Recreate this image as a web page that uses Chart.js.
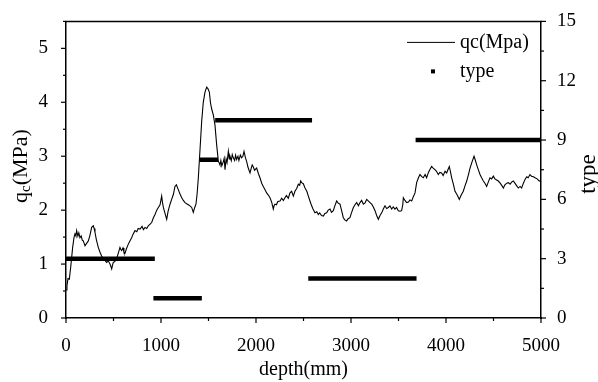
<!DOCTYPE html>
<html lang="en">
  <head>
    <meta charset="UTF-8">
    <title>qc and type vs depth</title>
    <script src="https://cdn.jsdelivr.net/npm/chart.js"></script>
    <style>
      html, body {
        margin: 0;
        padding: 0;
        background: #fff;
      }
      #wrap {
        width: 598px;
        height: 382px;
      }
    </style>
  </head>
  <body>
    <div id="wrap"><canvas id="cptChart"></canvas></div>
    <script>
      // qc trace (depth in mm, qc in MPa)
      const qcDepth = [0, 10, 21, 35, 50, 70, 85, 95, 105, 112, 125, 135, 147, 160, 172, 182, 192, 200, 215, 235,
        250, 270, 288, 296, 305, 320, 340, 358, 375, 393, 410, 428, 445, 463, 472, 481, 490, 498, 515, 533,
        550, 568, 577, 586, 600, 610, 621, 635, 656, 670, 691, 705, 726, 745, 760, 779, 800, 815, 832, 850,
        866, 885, 902, 920, 937, 955, 972, 990, 1007, 1015, 1025, 1045, 1060, 1075, 1095, 1112, 1130, 1147, 1162, 1182,
        1200, 1218, 1235, 1253, 1270, 1288, 1305, 1323, 1340, 1355, 1368, 1380, 1393, 1410, 1428, 1445, 1463, 1481, 1495, 1509,
        1520, 1533, 1551, 1568, 1586, 1604, 1612, 1621, 1630, 1640, 1656, 1665, 1674, 1685, 1695, 1709, 1718, 1726, 1740, 1750,
        1761, 1775, 1785, 1796, 1810, 1820, 1835, 1849, 1862, 1874, 1888, 1902, 1915, 1925, 1937, 1950, 1960, 1972, 1985, 2007,
        2025, 2042, 2060, 2077, 2095, 2112, 2130, 2147, 2165, 2182, 2190, 2200, 2215, 2230, 2253, 2270, 2288, 2305, 2320, 2340,
        2358, 2375, 2393, 2410, 2428, 2446, 2460, 2470, 2481, 2498, 2516, 2535, 2551, 2570, 2586, 2600, 2621, 2640, 2656, 2670,
        2690, 2709, 2725, 2744, 2760, 2779, 2795, 2814, 2830, 2849, 2865, 2884, 2900, 2919, 2935, 2954, 2970, 2989, 3005, 3025,
        3042, 3060, 3078, 3095, 3112, 3130, 3150, 3165, 3182, 3200, 3218, 3235, 3253, 3270, 3288, 3305, 3323, 3340, 3358, 3375,
        3393, 3410, 3428, 3445, 3463, 3480, 3498, 3516, 3533, 3545, 3551, 3568, 3586, 3605, 3620, 3639, 3656, 3674, 3691, 3710,
        3726, 3745, 3761, 3780, 3796, 3815, 3832, 3849, 3865, 3884, 3900, 3919, 3935, 3954, 3970, 3990, 4007, 4020, 4035, 4048,
        4060, 4078, 4095, 4118, 4140, 4160, 4182, 4200, 4218, 4235, 4253, 4275, 4295, 4310, 4323, 4340, 4358, 4375, 4393, 4410,
        4428, 4445, 4463, 4480, 4498, 4515, 4533, 4551, 4570, 4590, 4604, 4620, 4640, 4656, 4675, 4690, 4709, 4725, 4745, 4761,
        4780, 4796, 4815, 4832, 4850, 4865, 4884, 4900, 4920, 4937, 4960, 4982, 5000];
      const qcValues = [0.52, 0.60, 0.73, 0.72, 0.95, 1.31, 1.50, 1.56, 1.52, 1.62, 1.52, 1.58, 1.49, 1.52, 1.44, 1.43, 1.38, 1.34, 1.38, 1.43,
        1.52, 1.68, 1.71, 1.66, 1.59, 1.45, 1.31, 1.22, 1.15, 1.10, 1.07, 1.03, 1.06, 1.00, 0.96, 0.91, 0.98, 1.03, 1.05, 1.10,
        1.20, 1.31, 1.27, 1.25, 1.30, 1.22, 1.20, 1.28, 1.37, 1.42, 1.49, 1.55, 1.62, 1.60, 1.66, 1.65, 1.70, 1.64, 1.68, 1.66,
        1.71, 1.74, 1.77, 1.86, 1.92, 2.00, 2.05, 2.10, 2.26, 2.15, 2.05, 1.92, 1.83, 1.98, 2.11, 2.20, 2.29, 2.44, 2.47, 2.38,
        2.30, 2.23, 2.18, 2.14, 2.12, 2.10, 2.08, 2.05, 1.96, 2.05, 2.11, 2.30, 2.60, 3.10, 3.64, 4.00, 4.19, 4.28, 4.25, 4.19,
        4.00, 3.88, 3.76, 3.58, 3.21, 2.90, 2.88, 2.84, 2.92, 2.82, 2.90, 2.96, 2.75, 2.95, 2.88, 3.09, 2.95, 3.00, 2.92, 3.03,
        2.97, 2.92, 3.02, 2.94, 3.00, 2.92, 3.02, 2.97, 3.00, 3.09, 2.98, 2.90, 2.80, 2.75, 2.69, 2.78, 2.84, 2.80, 2.74, 2.78,
        2.68, 2.60, 2.50, 2.44, 2.38, 2.32, 2.28, 2.23, 2.15, 2.02, 2.08, 2.11, 2.10, 2.16, 2.17, 2.22, 2.18, 2.23, 2.27, 2.22,
        2.32, 2.35, 2.26, 2.35, 2.40, 2.48, 2.46, 2.54, 2.51, 2.49, 2.41, 2.35, 2.26, 2.16, 2.08, 2.02, 1.95, 1.97, 1.92, 1.95,
        1.90, 1.89, 1.94, 1.95, 2.00, 2.02, 1.96, 1.99, 2.08, 2.17, 2.13, 2.11, 2.00, 1.86, 1.82, 1.80, 1.84, 1.86, 1.95, 2.05,
        2.10, 2.14, 2.08, 2.14, 2.18, 2.11, 2.14, 2.20, 2.17, 2.14, 2.11, 2.06, 1.99, 1.90, 1.83, 1.90, 1.95, 2.02, 2.08, 2.03,
        2.05, 2.08, 2.02, 2.06, 2.02, 2.05, 1.99, 1.98, 1.99, 2.10, 2.23, 2.18, 2.14, 2.15, 2.19, 2.17, 2.25, 2.32, 2.51, 2.60,
        2.66, 2.62, 2.60, 2.66, 2.60, 2.70, 2.76, 2.81, 2.78, 2.75, 2.72, 2.66, 2.70, 2.69, 2.64, 2.72, 2.69, 2.75, 2.81, 2.70,
        2.60, 2.48, 2.35, 2.28, 2.20, 2.28, 2.35, 2.45, 2.54, 2.65, 2.78, 2.90, 3.00, 2.92, 2.84, 2.75, 2.66, 2.60, 2.54, 2.50,
        2.44, 2.52, 2.60, 2.58, 2.63, 2.58, 2.56, 2.54, 2.50, 2.45, 2.41, 2.47, 2.50, 2.51, 2.48, 2.52, 2.54, 2.50, 2.45, 2.41,
        2.44, 2.41, 2.50, 2.57, 2.62, 2.60, 2.66, 2.63, 2.62, 2.60, 2.58, 2.54, 2.55];

      // soil type layers (right axis)
      const typeStart = [0, 920, 1405, 1570, 2550, 3680];
      const typeEnd = [935, 1430, 1600, 2590, 3690, 5000];
      const typeValues = [3, 1, 8, 10, 2, 9];

      const xTicks = [0, 1000, 2000, 3000, 4000, 5000];
      const qcTicks = [0, 1, 2, 3, 4, 5];
      const typeTicks = [0, 3, 6, 9, 12, 15];

      const serif = "'Liberation Serif', 'Times New Roman', serif";

      const qcPoints = qcDepth.map((d, i) => ({ x: d, y: qcValues[i] }));
      const typePoints = [];
      typeValues.forEach((t, i) => {
        typePoints.push({ x: typeStart[i], y: t });
        typePoints.push({ x: typeEnd[i], y: t });
        typePoints.push({ x: typeEnd[i], y: null }); // break between layers
      });

      // outward tick marks, top frame line, y titles and the legend box
      const framePlugin = {
        id: 'framePlugin',
        afterDraw(chart) {
          const { ctx, chartArea: a, scales } = chart;
          const seg = (x1, y1, x2, y2) => {
            ctx.beginPath();
            ctx.moveTo(x1, y1);
            ctx.lineTo(x2, y2);
            ctx.stroke();
          };
          ctx.save();
          ctx.strokeStyle = '#000';
          ctx.lineWidth = 1.5;
          seg(a.left - 0.75, a.top, a.right + 0.75, a.top);

          ctx.lineWidth = 1.2;
          for (let v = 0; v <= 5000; v += 500) {
            const px = scales.x.getPixelForValue(v);
            seg(px, a.bottom, px, a.bottom + (v % 1000 === 0 ? 5 : 3));
          }
          for (let v = 0; v <= 5.5; v += 0.5) {
            const py = scales.y.getPixelForValue(v);
            seg(a.left, py, a.left - (v % 1 === 0 ? 5 : 3), py);
          }
          for (let v = 0; v <= 15; v += 1.5) {
            const py = scales.y2.getPixelForValue(v);
            seg(a.right, py, a.right + (v % 3 === 0 ? 5 : 3), py);
          }

          ctx.fillStyle = '#000';
          ctx.textBaseline = 'middle';

          // left title: q_c(MPa)
          const big = '22px ' + serif;
          const small = '15px ' + serif;
          ctx.save();
          ctx.translate(21, 166);
          ctx.rotate(-Math.PI / 2);
          ctx.font = big;
          const wq = ctx.measureText('q').width;
          const wp = ctx.measureText('(MPa)').width;
          ctx.font = small;
          const wc = ctx.measureText('c').width;
          let x0 = -(wq + wc + wp) / 2;
          ctx.textAlign = 'left';
          ctx.font = big;
          ctx.fillText('q', x0, 0);
          ctx.font = small;
          ctx.fillText('c', x0 + wq, 5);
          ctx.font = big;
          ctx.fillText('(MPa)', x0 + wq + wc, 0);
          ctx.restore();

          // right title: type
          ctx.save();
          ctx.translate(589, 174);
          ctx.rotate(-Math.PI / 2);
          ctx.font = '23px ' + serif;
          ctx.textAlign = 'center';
          ctx.fillText('type', 0, 0);
          ctx.restore();

          // legend
          const lx = a.right - 134;
          ctx.font = '20px ' + serif;
          ctx.textAlign = 'left';
          ctx.lineWidth = 1;
          seg(lx, a.top + 21, lx + 48, a.top + 21);
          ctx.fillText(chart.data.datasets[0].label, lx + 53, a.top + 21);
          ctx.fillRect(lx + 24, a.top + 48, 4, 4);
          ctx.fillText(chart.data.datasets[1].label, lx + 53, a.top + 50);
          ctx.restore();
        }
      };

      const tickFont = { family: serif, size: 19 };
      const plain = v => String(v);

      new Chart(document.getElementById('cptChart'), {
        type: 'line',
        data: {
          datasets: [{
            label: 'qc(Mpa)',
            data: qcPoints,
            yAxisID: 'y',
            borderColor: '#000',
            borderWidth: 1.1,
            pointRadius: 0,
            tension: 0
          }, {
            label: 'type',
            data: typePoints,
            yAxisID: 'y2',
            borderColor: '#000',
            borderWidth: 4.5,
            borderCapStyle: 'butt',
            pointRadius: 0,
            spanGaps: false,
            tension: 0
          }]
        },
        options: {
          responsive: true,
          maintainAspectRatio: false,
          animation: false,
          layout: { padding: { top: 21, left: 0, right: 0, bottom: 0 } },
          plugins: {
            legend: { display: false },
            tooltip: { enabled: false }
          },
          scales: {
            x: {
              type: 'linear',
              min: 0,
              max: 5000,
              afterBuildTicks: s => { s.ticks = xTicks.map(v => ({ value: v })); },
              afterFit: s => { s.height = 64; },
              grid: { display: false },
              border: { display: true, color: '#000', width: 1.5 },
              ticks: { color: '#000', font: tickFont, padding: 9, maxRotation: 0, callback: plain },
              title: {
                display: true,
                text: 'depth(mm)',
                color: '#000',
                font: { family: serif, size: 20 },
                padding: { top: 0, bottom: 0 }
              }
            },
            y: {
              position: 'left',
              min: 0,
              max: 5.5,
              afterBuildTicks: s => { s.ticks = qcTicks.map(v => ({ value: v })); },
              afterFit: s => { s.width = 66; },
              grid: { display: false },
              border: { display: true, color: '#000', width: 1.5 },
              ticks: { color: '#000', font: tickFont, padding: 10, callback: plain }
            },
            y2: {
              position: 'right',
              min: 0,
              max: 15,
              afterBuildTicks: s => { s.ticks = typeTicks.map(v => ({ value: v })); },
              afterFit: s => { s.width = 57; },
              grid: { display: false },
              border: { display: true, color: '#000', width: 1.5 },
              ticks: { color: '#000', font: tickFont, padding: 8, callback: plain }
            }
          }
        },
        plugins: [framePlugin]
      });
    </script>
  </body>
</html>
